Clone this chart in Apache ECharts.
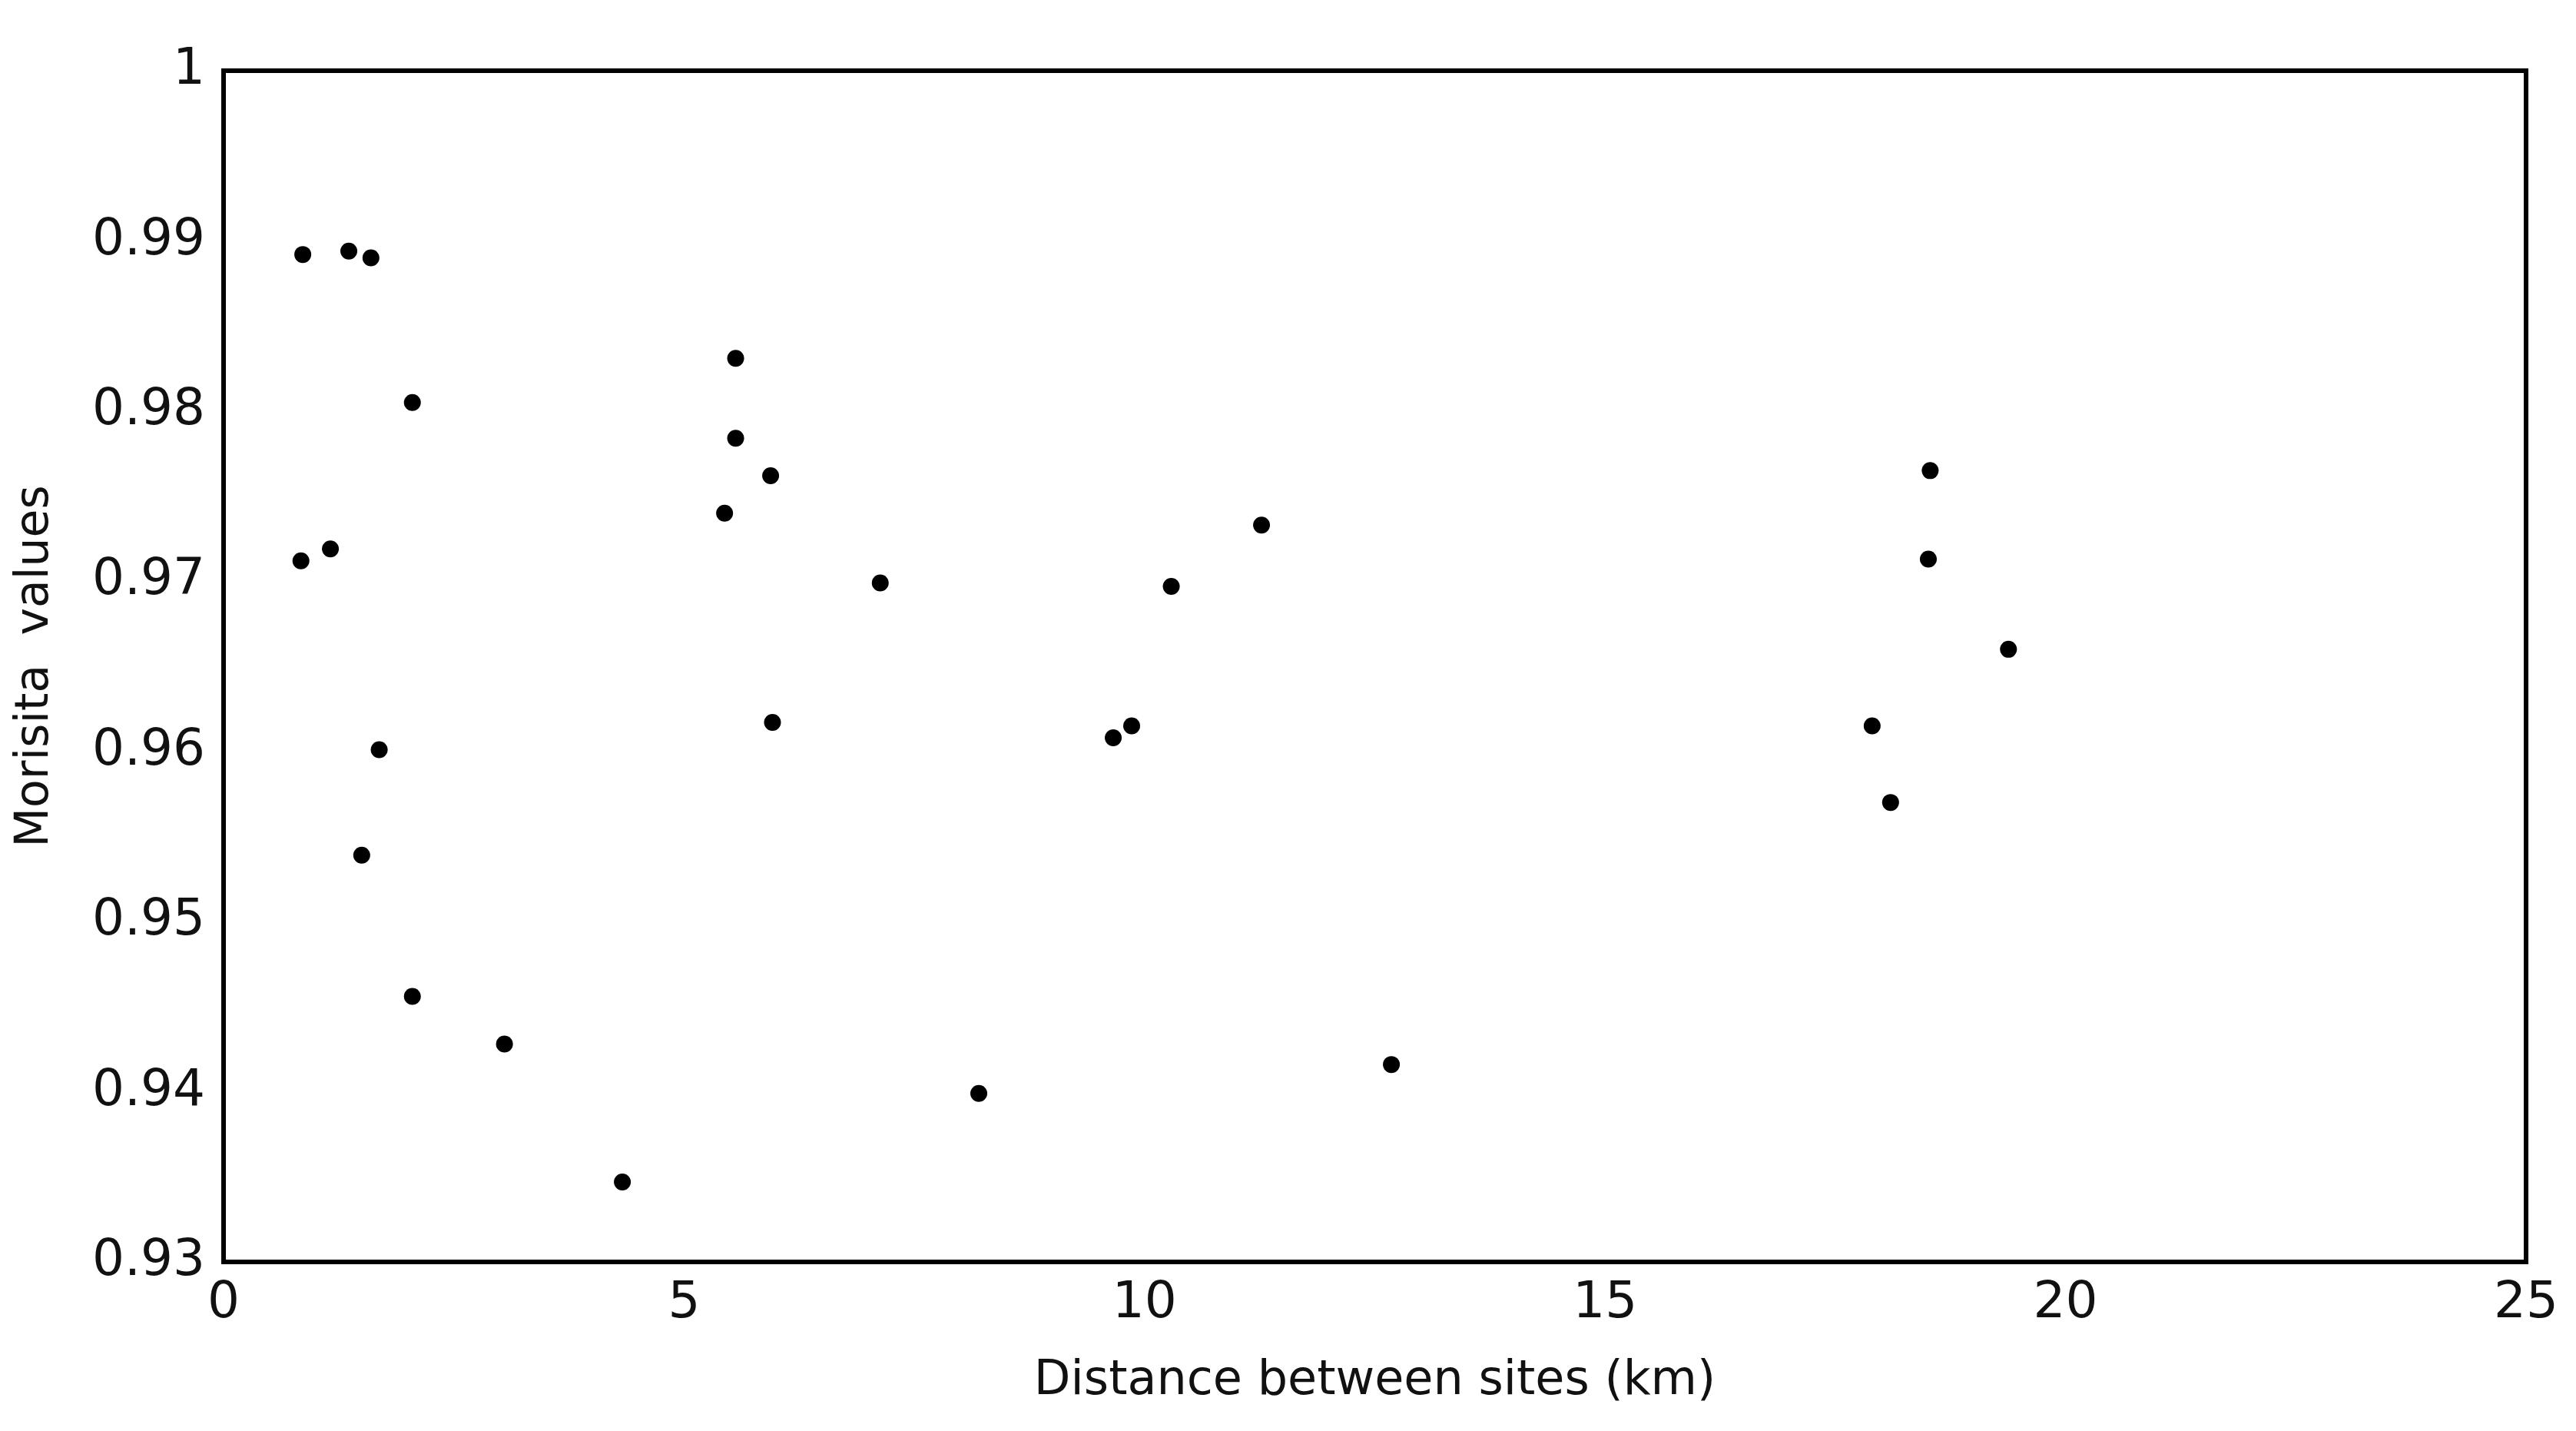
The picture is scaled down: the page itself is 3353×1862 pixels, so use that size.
<!DOCTYPE html>
<html><head><meta charset="utf-8">
<script src="https://cdn.jsdelivr.net/npm/echarts@6/dist/echarts.min.js"></script>
<style>html,body{margin:0;padding:0;background:#fff}#c{width:3353px;height:1862px}</style>
</head><body><div id="c"></div>
<script>
const distances = [0.86,1.36,1.60,2.05,0.84,1.16,1.69,1.50,2.05,3.05,4.33,5.56,5.56,5.94,5.44,5.96,7.13,8.20,9.66,9.86,10.29,11.27,12.68,17.90,18.10,18.53,18.51,19.38];
const morisita = [0.9892,0.9894,0.9890,0.9805,0.9712,0.9719,0.9601,0.9539,0.9456,0.9428,0.9347,0.9831,0.9784,0.9762,0.9740,0.9617,0.9699,0.9399,0.9608,0.9615,0.9697,0.9733,0.9416,0.9615,0.9570,0.9765,0.9713,0.9660];
const xTicks = [0,5,10,15,20,25];
const chart = echarts.init(document.getElementById('c'));
const font = 'DejaVu Sans';
chart.setOption({
  animation:false,
  grid:{left:291,right:65,top:92,bottom:220,show:true,borderColor:'#000',borderWidth:6,backgroundColor:'transparent'},
  xAxis:{type:'value',min:0,max:25,interval:5,name:'Distance between sites (km)',nameLocation:'middle',nameGap:125,
    nameTextStyle:{fontFamily:font,fontSize:62,color:'#111'},
    axisLine:{show:false},axisTick:{show:false},splitLine:{show:false},
    axisLabel:{fontFamily:font,fontSize:66,color:'#111',margin:22,formatter:v=>xTicks.includes(v)?String(v):''}},
  yAxis:{type:'value',min:0.93,max:1,interval:0.01,name:'Morisita  values',nameLocation:'middle',nameGap:215,
    nameTextStyle:{fontFamily:font,fontSize:60,color:'#111'},
    axisLine:{show:false},axisTick:{show:false},splitLine:{show:false},
    axisLabel:{fontFamily:font,fontSize:66,color:'#111',margin:24,formatter:v=>String(+v.toFixed(2))}},
  series:[{type:'scatter',symbolSize:22,itemStyle:{color:'#000',opacity:1},data:distances.map((d,i)=>[d,morisita[i]])}]
});
</script></body></html>
